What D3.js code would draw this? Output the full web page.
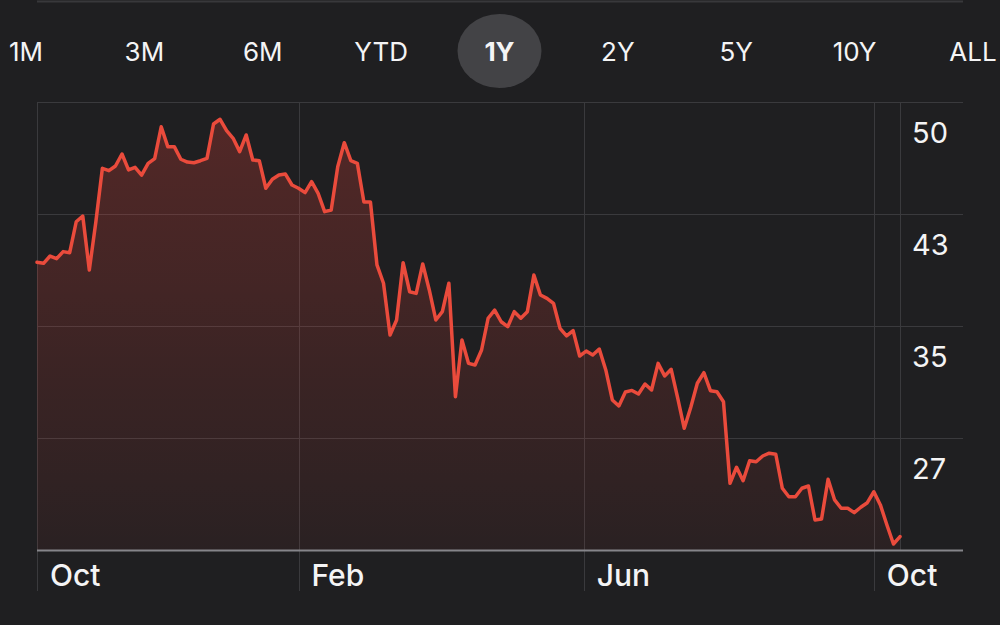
<!DOCTYPE html>
<html>
<head>
    <meta charset="utf-8">
    <title>1Y price</title>
    <style>
        html, body {
            margin: 0;
            padding: 0;
            background: #1f1f21;
        }
        svg {
            display: block;
            font-family: 'Inter', 'Roboto', sans-serif;
        }
        .grid line {
            stroke: #3a3a3d;
            stroke-width: 1px;
            shape-rendering: crispEdges;
        }
        .tab {
            fill: #f4f4f5;
            font-size: 26px;
            font-weight: 400;
            text-anchor: middle;
        }
        .tab.active {
            font-weight: 700;
        }
        .xlab {
            fill: #f4f4f5;
            font-size: 30px;
            font-weight: 500;
        }
        .ylab {
            fill: #f4f4f5;
            font-size: 29px;
            font-weight: 400;
        }
    </style>
</head>
<body>
<div id="chart"></div>

<script src="https://cdnjs.cloudflare.com/ajax/libs/d3/7.8.5/d3.min.js"></script>
<script type="text/javascript">

// range buttons along the top
var tabs = ["1M", "3M", "6M", "YTD", "1Y", "2Y", "5Y", "10Y", "ALL"];
var activeTab = "1Y";

// first and last day of the series, points are evenly spaced between them
var startDate = "2021-10-14";
var endDate   = "2022-10-12";

// closing prices
var prices = [
    39.35, 39.28, 39.78, 39.60, 40.08, 40.01, 42.12, 42.51, 38.83, 42.10,
    45.77, 45.61, 45.93, 46.75, 45.66, 45.84, 45.31, 46.11, 46.43, 48.61,
    47.25, 47.25, 46.39, 46.20, 46.15, 46.29, 46.45, 48.80, 49.12, 48.34,
    47.82, 46.91, 48.05, 46.34, 46.29, 44.41, 45.02, 45.31, 45.38, 44.63,
    44.41, 44.11, 44.86, 44.06, 42.81, 42.92, 45.88, 47.52, 46.29, 46.11,
    43.47, 43.47, 39.17, 37.92, 34.39, 35.41, 39.32, 37.34, 37.23, 39.24,
    37.46, 35.41, 35.98, 37.92, 30.17, 34.04, 32.45, 32.34, 33.36, 35.53,
    36.09, 35.29, 34.95, 35.98, 35.53, 35.98, 38.48, 37.12, 36.89, 36.55,
    34.84, 34.32, 34.68, 32.95, 33.29, 33.02, 33.43, 32.00, 29.95, 29.54,
    30.49, 30.60, 30.36, 31.04, 30.63, 32.45, 31.59, 32.04, 30.08, 28.01,
    29.45, 31.09, 31.81, 30.58, 30.51, 29.83, 24.26, 25.35, 24.43, 25.80,
    25.73, 26.12, 26.31, 26.24, 23.92, 23.34, 23.34, 23.92, 24.07, 21.75,
    21.82, 24.53, 23.12, 22.55, 22.55, 22.25, 22.62, 22.93, 23.68, 22.78,
    21.41, 20.11, 20.61
];

// month marks on the x axis
var xTickDates  = ["2021-10-14", "2022-02-01", "2022-06-01", "2022-10-01"];
var xTickLabels = ["Oct", "Feb", "Jun", "Oct"];

// price gridlines (labels are rounded) and the bottom of the scale
var yTicks  = [50.3, 42.65, 35.0, 27.35];
var yBottom = 19.7;

var W = 1000, H = 625;
var plot = {left: 37, right: 900, top: 102, bottom: 550, gridEnd: 963};

var parseDate = d3.timeParse("%Y-%m-%d");
var t0 = parseDate(startDate), t1 = parseDate(endDate);

var data = prices.map(function(p, i) {
    var t = new Date(+t0 + (t1 - t0) * i / (prices.length - 1));
    return {date: t, price: p};
});

var x = d3.scaleTime().domain([t0, t1]).range([plot.left, plot.right]);
var y = d3.scaleLinear().domain([yBottom, yTicks[0]]).range([plot.bottom, plot.top]);
var tabX = d3.scalePoint().domain(tabs).range([26, 973]);

var svg = d3.select("#chart")
    .append("svg")
    .attr("width", W)
    .attr("height", H);

var defs = svg.append("defs");
var grad = defs.append("linearGradient")
    .attr("id", "fade")
    .attr("gradientUnits", "userSpaceOnUse")
    .attr("x1", 0).attr("x2", 0)
    .attr("y1", plot.top).attr("y2", plot.bottom);
grad.append("stop").attr("offset", "0%").attr("stop-color", "#ff453a").attr("stop-opacity", 0.24);
grad.append("stop").attr("offset", "100%").attr("stop-color", "#ff453a").attr("stop-opacity", 0.05);

// thin line at the very top
svg.append("line")
    .attr("x1", plot.left).attr("x2", plot.gridEnd)
    .attr("y1", 1.5).attr("y2", 1.5)
    .style("stroke", "#38383b")
    .style("stroke-width", "2px");

// range selector
svg.append("rect")
    .attr("x", tabX(activeTab) - 42)
    .attr("y", 14)
    .attr("width", 84)
    .attr("height", 74)
    .attr("rx", 42)
    .attr("ry", 37)
    .style("fill", "#434346");

svg.selectAll(".tab")
    .data(tabs)
    .enter().append("text")
    .attr("class", function(d) { return d === activeTab ? "tab active" : "tab"; })
    .attr("x", function(d) { return tabX(d); })
    .attr("y", 61)
    .text(function(d) { return d; });

// gridlines
var grid = svg.append("g").attr("class", "grid");

grid.selectAll(".hline")
    .data(yTicks)
    .enter().append("line")
    .attr("class", "hline")
    .attr("x1", plot.left).attr("x2", plot.gridEnd)
    .attr("y1", function(d) { return Math.round(y(d)) + 0.5; })
    .attr("y2", function(d) { return Math.round(y(d)) + 0.5; });

grid.selectAll(".vline")
    .data(xTickDates)
    .enter().append("line")
    .attr("class", "vline")
    .attr("x1", function(d) { return Math.round(x(parseDate(d))) + 0.5; })
    .attr("x2", function(d) { return Math.round(x(parseDate(d))) + 0.5; })
    .attr("y1", plot.top)
    .attr("y2", 591);

// right edge of the plot
grid.append("line")
    .attr("x1", plot.right + 0.5).attr("x2", plot.right + 0.5)
    .attr("y1", plot.top).attr("y2", plot.bottom);

// area + line
var area = d3.area()
    .x(function(d) { return x(d.date); })
    .y0(y(yBottom))
    .y1(function(d) { return y(d.price); });

var line = d3.line()
    .x(function(d) { return x(d.date); })
    .y(function(d) { return y(d.price); });

svg.append("path")
    .datum(data)
    .attr("d", area)
    .style("fill", "url(#fade)");

// baseline
svg.append("line")
    .attr("x1", plot.left).attr("x2", plot.gridEnd)
    .attr("y1", y(yBottom) + 0.5).attr("y2", y(yBottom) + 0.5)
    .style("stroke", "#85858a")
    .style("stroke-width", "2px");

svg.append("path")
    .datum(data)
    .attr("d", line)
    .style("fill", "none")
    .style("stroke", "#ea4b3c")
    .style("stroke-width", "3.5px")
    .style("stroke-linejoin", "round")
    .style("stroke-linecap", "round");

// axis labels
svg.selectAll(".xlab")
    .data(xTickDates)
    .enter().append("text")
    .attr("class", "xlab")
    .attr("x", function(d) { return x(parseDate(d)) + 13; })
    .attr("y", 586)
    .text(function(d, i) { return xTickLabels[i]; });

svg.selectAll(".ylab")
    .data(yTicks)
    .enter().append("text")
    .attr("class", "ylab")
    .attr("x", 912)
    .attr("y", function(d) { return y(d) + 41; })
    .text(function(d) { return d3.format(".0f")(d); });

</script>
</body>
</html>
